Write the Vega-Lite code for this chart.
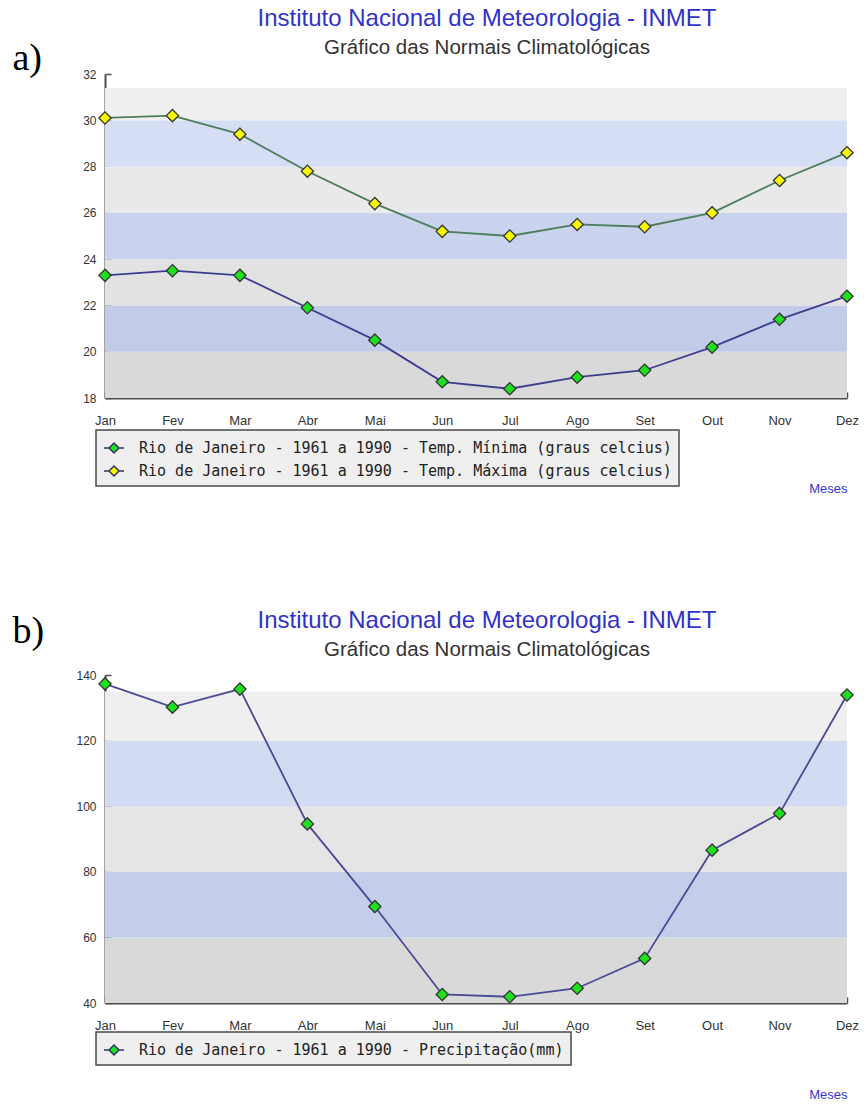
{
  "$schema": "https://vega.github.io/schema/vega-lite/v6.json",
  "background": "white",
  "padding": {"left": 12, "top": 6, "right": 5, "bottom": 5},
  "spacing": 113,
  "resolve": {
    "scale": {"color": "independent", "fill": "independent", "stroke": "independent"},
    "legend": {"color": "independent", "fill": "independent", "stroke": "independent"}
  },
  "config": {
    "view": {"stroke": null},
    "axis": {
      "domainColor": "#4d4d4d", "domainWidth": 2,
      "tickColor": "#4d4d4d", "tickWidth": 1.5, "tickSize": -6,
      "labelFont": "Liberation Sans", "labelColor": "#333333",
      "grid": false
    },
    "title": {
      "font": "Liberation Sans", "fontSize": 24, "fontWeight": "normal", "color": "#3232c8",
      "subtitleFont": "Liberation Sans", "subtitleFontSize": 20.5, "subtitleColor": "#333333",
      "anchor": "middle", "frame": "group", "dx": 11, "subtitlePadding": 7
    },
    "legend": {
      "orient": "none", "fillColor": "#efefef", "strokeColor": "#4a4a4a", "strokeWidth": 1.5, "padding": 7,
      "labelFont": "DejaVu Sans Mono", "labelFontSize": 15, "labelColor": "#222222", "labelLimit": 1000,
      "labelOffset": 14, "rowPadding": 4,
      "symbolType": "M-1,0L-0.5,0M0.5,0L1,0M0,-0.5L0.5,0L0,0.5L-0.5,0Z",
      "symbolSize": 400, "symbolStrokeColor": "#333366", "symbolStrokeWidth": 1.5
    }
  },
  "datasets": {
    "temp": [
      {"mes": "Jan", "serie": "Rio de Janeiro - 1961 a 1990 - Temp. Mínima (graus celcius)", "valor": 23.3},
      {"mes": "Fev", "serie": "Rio de Janeiro - 1961 a 1990 - Temp. Mínima (graus celcius)", "valor": 23.5},
      {"mes": "Mar", "serie": "Rio de Janeiro - 1961 a 1990 - Temp. Mínima (graus celcius)", "valor": 23.3},
      {"mes": "Abr", "serie": "Rio de Janeiro - 1961 a 1990 - Temp. Mínima (graus celcius)", "valor": 21.9},
      {"mes": "Mai", "serie": "Rio de Janeiro - 1961 a 1990 - Temp. Mínima (graus celcius)", "valor": 20.5},
      {"mes": "Jun", "serie": "Rio de Janeiro - 1961 a 1990 - Temp. Mínima (graus celcius)", "valor": 18.7},
      {"mes": "Jul", "serie": "Rio de Janeiro - 1961 a 1990 - Temp. Mínima (graus celcius)", "valor": 18.4},
      {"mes": "Ago", "serie": "Rio de Janeiro - 1961 a 1990 - Temp. Mínima (graus celcius)", "valor": 18.9},
      {"mes": "Set", "serie": "Rio de Janeiro - 1961 a 1990 - Temp. Mínima (graus celcius)", "valor": 19.2},
      {"mes": "Out", "serie": "Rio de Janeiro - 1961 a 1990 - Temp. Mínima (graus celcius)", "valor": 20.2},
      {"mes": "Nov", "serie": "Rio de Janeiro - 1961 a 1990 - Temp. Mínima (graus celcius)", "valor": 21.4},
      {"mes": "Dez", "serie": "Rio de Janeiro - 1961 a 1990 - Temp. Mínima (graus celcius)", "valor": 22.4},
      {"mes": "Jan", "serie": "Rio de Janeiro - 1961 a 1990 - Temp. Máxima (graus celcius)", "valor": 30.1},
      {"mes": "Fev", "serie": "Rio de Janeiro - 1961 a 1990 - Temp. Máxima (graus celcius)", "valor": 30.2},
      {"mes": "Mar", "serie": "Rio de Janeiro - 1961 a 1990 - Temp. Máxima (graus celcius)", "valor": 29.4},
      {"mes": "Abr", "serie": "Rio de Janeiro - 1961 a 1990 - Temp. Máxima (graus celcius)", "valor": 27.8},
      {"mes": "Mai", "serie": "Rio de Janeiro - 1961 a 1990 - Temp. Máxima (graus celcius)", "valor": 26.4},
      {"mes": "Jun", "serie": "Rio de Janeiro - 1961 a 1990 - Temp. Máxima (graus celcius)", "valor": 25.2},
      {"mes": "Jul", "serie": "Rio de Janeiro - 1961 a 1990 - Temp. Máxima (graus celcius)", "valor": 25.0},
      {"mes": "Ago", "serie": "Rio de Janeiro - 1961 a 1990 - Temp. Máxima (graus celcius)", "valor": 25.5},
      {"mes": "Set", "serie": "Rio de Janeiro - 1961 a 1990 - Temp. Máxima (graus celcius)", "valor": 25.4},
      {"mes": "Out", "serie": "Rio de Janeiro - 1961 a 1990 - Temp. Máxima (graus celcius)", "valor": 26.0},
      {"mes": "Nov", "serie": "Rio de Janeiro - 1961 a 1990 - Temp. Máxima (graus celcius)", "valor": 27.4},
      {"mes": "Dez", "serie": "Rio de Janeiro - 1961 a 1990 - Temp. Máxima (graus celcius)", "valor": 28.6}
    ],
    "prec": [
      {"mes": "Jan", "serie": "Rio de Janeiro - 1961 a 1990 - Precipitação(mm)", "valor": 137.3},
      {"mes": "Fev", "serie": "Rio de Janeiro - 1961 a 1990 - Precipitação(mm)", "valor": 130.2},
      {"mes": "Mar", "serie": "Rio de Janeiro - 1961 a 1990 - Precipitação(mm)", "valor": 135.7},
      {"mes": "Abr", "serie": "Rio de Janeiro - 1961 a 1990 - Precipitação(mm)", "valor": 94.6},
      {"mes": "Mai", "serie": "Rio de Janeiro - 1961 a 1990 - Precipitação(mm)", "valor": 69.4},
      {"mes": "Jun", "serie": "Rio de Janeiro - 1961 a 1990 - Precipitação(mm)", "valor": 42.6},
      {"mes": "Jul", "serie": "Rio de Janeiro - 1961 a 1990 - Precipitação(mm)", "valor": 41.9},
      {"mes": "Ago", "serie": "Rio de Janeiro - 1961 a 1990 - Precipitação(mm)", "valor": 44.5},
      {"mes": "Set", "serie": "Rio de Janeiro - 1961 a 1990 - Precipitação(mm)", "valor": 53.6},
      {"mes": "Out", "serie": "Rio de Janeiro - 1961 a 1990 - Precipitação(mm)", "valor": 86.6},
      {"mes": "Nov", "serie": "Rio de Janeiro - 1961 a 1990 - Precipitação(mm)", "valor": 97.8},
      {"mes": "Dez", "serie": "Rio de Janeiro - 1961 a 1990 - Precipitação(mm)", "valor": 133.9}
    ],
    "faixasA": [
      {"faixa": "a1", "y0": 18, "y1": 20},
      {"faixa": "a2", "y0": 20, "y1": 22},
      {"faixa": "a3", "y0": 22, "y1": 24},
      {"faixa": "a4", "y0": 24, "y1": 26},
      {"faixa": "a5", "y0": 26, "y1": 28},
      {"faixa": "a6", "y0": 28, "y1": 30},
      {"faixa": "a7", "y0": 30, "y1": 31.4}
    ],
    "faixasB": [
      {"faixa": "b1", "y0": 40, "y1": 60},
      {"faixa": "b2", "y0": 60, "y1": 80},
      {"faixa": "b3", "y0": 80, "y1": 100},
      {"faixa": "b4", "y0": 100, "y1": 120},
      {"faixa": "b5", "y0": 120, "y1": 135}
    ]
  },
  "vconcat": [
    {
      "width": 742,
      "height": 324,
      "title": {"text": "Instituto Nacional de Meteorologia - INMET", "subtitle": "Gráfico das Normais Climatológicas", "offset": -19},
      "resolve": {"scale": {"color": "independent", "fill": "independent", "stroke": "independent"}},
      "layer": [
        {
          "data": {"name": "faixasA"},
          "mark": {"type": "rect"},
          "encoding": {
            "y": {"field": "y0", "type": "quantitative", "scale": {"domain": [18, 32], "nice": false, "zero": false},
              "axis": {"values": [18,19,20,21,22,23,24,25,26,27,28,29,30,31,32], "labelExpr": "datum.value % 2 == 0 ? datum.label : ''",
                "labelFontSize": 12, "labelPadding": 15, "title": "a)", "titleAngle": 0, "titleX": -93, "titleY": -16,
                "titleAlign": "left", "titleBaseline": "middle", "titleFont": "Liberation Serif", "titleFontSize": 38,
                "titleFontWeight": "normal", "titleColor": "#000000"}},
            "y2": {"field": "y1"},
            "color": {"field": "faixa", "type": "nominal", "legend": null,
              "scale": {"domain": ["a1","a2","a3","a4","a5","a6","a7"], "range": ["#d9d9d9","#c2cbe8","#e2e2e2","#cad3ee","#e9e9e9","#d5def4","#efefef"]}}
          }
        },
        {
          "data": {"name": "temp"},
          "mark": {"type": "line", "strokeWidth": 1.8},
          "encoding": {
            "x": {"field": "mes", "type": "ordinal", "scale": {"type": "point", "padding": 0, "domain": ["Jan","Fev","Mar","Abr","Mai","Jun","Jul","Ago","Set","Out","Nov","Dez"]},
              "axis": {"labelAngle": 0, "labelFontSize": 13, "labelPadding": 22, "title": "Meses", "titleAnchor": "end", "titleAlign": "right",
                "titleX": 742, "titleY": 90, "titleBaseline": "middle", "titleFont": "Liberation Sans", "titleFontSize": 13,
                "titleFontWeight": "normal", "titleColor": "#3535d0"}},
            "y": {"field": "valor", "type": "quantitative"},
            "stroke": {"field": "serie", "type": "nominal", "legend": null,
              "scale": {"domain": ["Rio de Janeiro - 1961 a 1990 - Temp. Mínima (graus celcius)", "Rio de Janeiro - 1961 a 1990 - Temp. Máxima (graus celcius)"], "range": ["#3d3d8f", "#4d7d5a"]}}
          }
        },
        {
          "data": {"name": "temp"},
          "mark": {"type": "point", "shape": "diamond", "filled": true, "size": 150, "stroke": "#333333", "strokeWidth": 1.3, "opacity": 1},
          "encoding": {
            "x": {"field": "mes", "type": "ordinal"},
            "y": {"field": "valor", "type": "quantitative"},
            "fill": {"field": "serie", "type": "nominal",
              "scale": {"domain": ["Rio de Janeiro - 1961 a 1990 - Temp. Mínima (graus celcius)", "Rio de Janeiro - 1961 a 1990 - Temp. Máxima (graus celcius)"], "range": ["#1ee01e", "#f8f800"]},
              "legend": {"title": null, "legendX": -9, "legendY": 356}}
          }
        }
      ]
    },
    {
      "width": 742,
      "height": 328,
      "title": {"text": "Instituto Nacional de Meteorologia - INMET", "subtitle": "Gráfico das Normais Climatológicas", "offset": -48},
      "resolve": {"scale": {"color": "independent", "fill": "independent", "stroke": "independent"}},
      "layer": [
        {
          "data": {"name": "faixasB"},
          "mark": {"type": "rect"},
          "encoding": {
            "y": {"field": "y0", "type": "quantitative", "scale": {"domain": [40, 140], "nice": false, "zero": false},
              "axis": {"values": [40,50,60,70,80,90,100,110,120,130,140], "labelExpr": "datum.value % 20 == 0 ? datum.label : ''",
                "labelFontSize": 12, "labelPadding": 15, "title": "b)", "titleAngle": 0, "titleX": -93, "titleY": -44,
                "titleAlign": "left", "titleBaseline": "middle", "titleFont": "Liberation Serif", "titleFontSize": 38,
                "titleFontWeight": "normal", "titleColor": "#000000"}},
            "y2": {"field": "y1"},
            "color": {"field": "faixa", "type": "nominal", "legend": null,
              "scale": {"domain": ["b1","b2","b3","b4","b5"], "range": ["#d9d9d9","#c4cde9","#e5e5e5","#d2dbf2","#efefef"]}}
          }
        },
        {
          "data": {"name": "prec"},
          "mark": {"type": "line", "strokeWidth": 1.8, "color": "#4a4a96"},
          "encoding": {
            "x": {"field": "mes", "type": "ordinal", "scale": {"type": "point", "padding": 0, "domain": ["Jan","Fev","Mar","Abr","Mai","Jun","Jul","Ago","Set","Out","Nov","Dez"]},
              "axis": {"labelAngle": 0, "labelFontSize": 13, "labelPadding": 22, "title": "Meses", "titleAnchor": "end", "titleAlign": "right",
                "titleX": 742, "titleY": 91, "titleBaseline": "middle", "titleFont": "Liberation Sans", "titleFontSize": 13,
                "titleFontWeight": "normal", "titleColor": "#3535d0"}},
            "y": {"field": "valor", "type": "quantitative"}
          }
        },
        {
          "data": {"name": "prec"},
          "mark": {"type": "point", "shape": "diamond", "filled": true, "size": 150, "stroke": "#333333", "strokeWidth": 1.3, "opacity": 1},
          "encoding": {
            "x": {"field": "mes", "type": "ordinal"},
            "y": {"field": "valor", "type": "quantitative"},
            "fill": {"field": "serie", "type": "nominal",
              "scale": {"domain": ["Rio de Janeiro - 1961 a 1990 - Precipitação(mm)"], "range": ["#1ee01e"]},
              "legend": {"title": null, "legendX": -9, "legendY": 357}}
          }
        }
      ]
    }
  ]
}
